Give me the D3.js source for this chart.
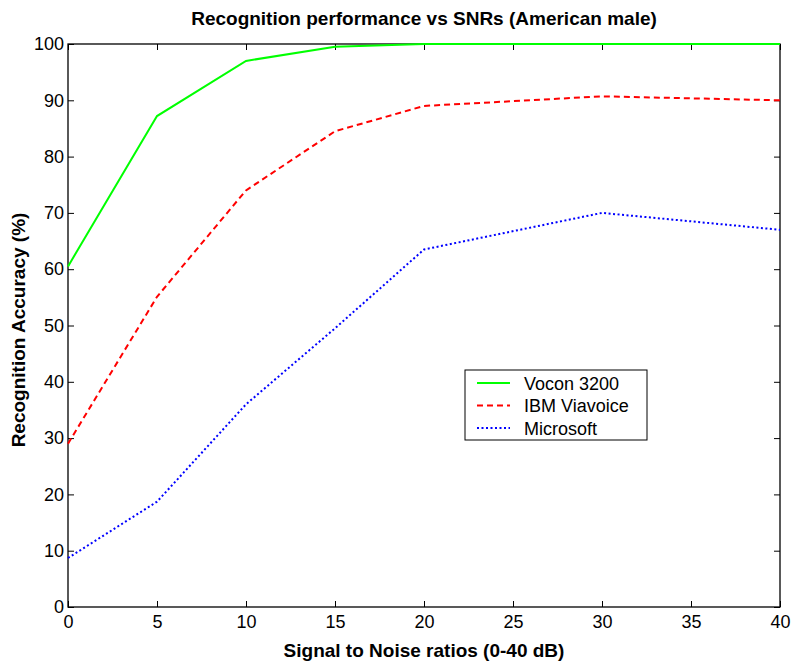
<!DOCTYPE html>
<html>
<head>
<meta charset="utf-8">
<script src="https://cdn.jsdelivr.net/npm/d3@7"></script>
<style>
  body { margin: 0; background: #fff; }
  svg text { font-family: "Liberation Sans", Arial, sans-serif; fill: #000; }
</style>
</head>
<body>
<div id="chart"></div>
<script>
// SNR values (dB)
var snr = [0, 5, 10, 15, 20, 30, 40];

// accuracy per recogniser (%)
var vocon = [60.5, 87.2, 97, 99.5, 100, 100, 100];
var ibm = [29, 55.1, 74, 84.5, 89, 90.7, 90];
var microsoft = [8.7, 18.7, 36, 49.5, 63.5, 70, 67];

var seriesNames = ["Vocon 3200", "IBM Viavoice", "Microsoft"];
var xTicks = [0, 5, 10, 15, 20, 25, 30, 35, 40];
var yTicks = [0, 10, 20, 30, 40, 50, 60, 70, 80, 90, 100];

var margin = {top: 44, right: 13, bottom: 57, left: 68},
    width = 793 - margin.left - margin.right,
    height = 664 - margin.top - margin.bottom;

var svg = d3.select("#chart")
  .append("svg")
    .attr("width", 793)
    .attr("height", 664)
  .append("g")
    .attr("transform", "translate(" + margin.left + "," + margin.top + ")");

var x = d3.scaleLinear().domain([0, 40]).range([0, width]);
var y = d3.scaleLinear().domain([0, 100]).range([height, 0]);

// axes, ticks pointing inward on all four sides
function styleAxis(g) {
  g.select(".domain").remove();
  g.selectAll("line").attr("stroke", "#000").attr("stroke-width", 1);
}

svg.append("g")
  .attr("transform", "translate(0," + height + ")")
  .call(d3.axisBottom(x).tickValues(xTicks).tickSizeInner(-6).tickSizeOuter(0).tickPadding(8))
  .call(styleAxis)
  .selectAll("text").style("font-size", "18px");

svg.append("g")
  .call(d3.axisTop(x).tickValues(xTicks).tickSizeInner(-6).tickSizeOuter(0).tickFormat(""))
  .call(styleAxis);

svg.append("g")
  .call(d3.axisLeft(y).tickValues(yTicks).tickSizeInner(-6).tickSizeOuter(0).tickPadding(4))
  .call(styleAxis)
  .selectAll("text").style("font-size", "18px");

svg.append("g")
  .attr("transform", "translate(" + width + ",0)")
  .call(d3.axisRight(y).tickValues(yTicks).tickSizeInner(-6).tickSizeOuter(0).tickFormat(""))
  .call(styleAxis);

// frame
svg.append("rect")
  .attr("x", 0).attr("y", 0)
  .attr("width", width).attr("height", height)
  .attr("fill", "none")
  .attr("stroke", "#000")
  .attr("stroke-width", 1.3);

var series = [
  {name: seriesNames[0], values: vocon, color: "#00ff00", dash: null},
  {name: seriesNames[1], values: ibm, color: "#ff0000", dash: "6,4"},
  {name: seriesNames[2], values: microsoft, color: "#0000ff", dash: "2,2.5"}
];

var line = d3.line()
  .x(function(d, i) { return x(snr[i]); })
  .y(function(d) { return y(d); });

svg.selectAll("path.series")
  .data(series)
  .enter()
  .append("path")
    .attr("class", "series")
    .attr("d", function(d) { return line(d.values); })
    .attr("fill", "none")
    .attr("stroke", function(d) { return d.color; })
    .attr("stroke-width", 2)
    .attr("stroke-dasharray", function(d) { return d.dash; });

// legend
var legend = svg.append("g")
  .attr("transform", "translate(" + (465 - margin.left) + "," + (370 - margin.top) + ")");

legend.append("rect")
  .attr("width", 182).attr("height", 70)
  .attr("fill", "#fff")
  .attr("stroke", "#000")
  .attr("stroke-width", 1);

var item = legend.selectAll("g.item")
  .data(series)
  .enter()
  .append("g")
    .attr("class", "item")
    .attr("transform", function(d, i) { return "translate(0," + (13 + i * 22.5) + ")"; });

item.append("line")
  .attr("x1", 12).attr("x2", 45)
  .attr("y1", 0).attr("y2", 0)
  .attr("stroke", function(d) { return d.color; })
  .attr("stroke-width", 2)
  .attr("stroke-dasharray", function(d) { return d.dash; });

item.append("text")
  .attr("x", 59)
  .attr("y", 6.5)
  .style("font-size", "18px")
  .text(function(d) { return d.name; });

// title and axis labels
svg.append("text")
  .attr("x", width / 2)
  .attr("y", -19)
  .attr("text-anchor", "middle")
  .style("font-size", "19px")
  .style("font-weight", "bold")
  .text("Recognition performance vs SNRs (American male)");

svg.append("text")
  .attr("x", width / 2)
  .attr("y", height + 50)
  .attr("text-anchor", "middle")
  .style("font-size", "19px")
  .style("font-weight", "bold")
  .text("Signal to Noise ratios (0-40 dB)");

svg.append("text")
  .attr("transform", "rotate(-90)")
  .attr("x", -286)
  .attr("y", -43)
  .attr("text-anchor", "middle")
  .style("font-size", "19px")
  .style("font-weight", "bold")
  .text("Recognition Accuracy (%)");
</script>
</body>
</html>
